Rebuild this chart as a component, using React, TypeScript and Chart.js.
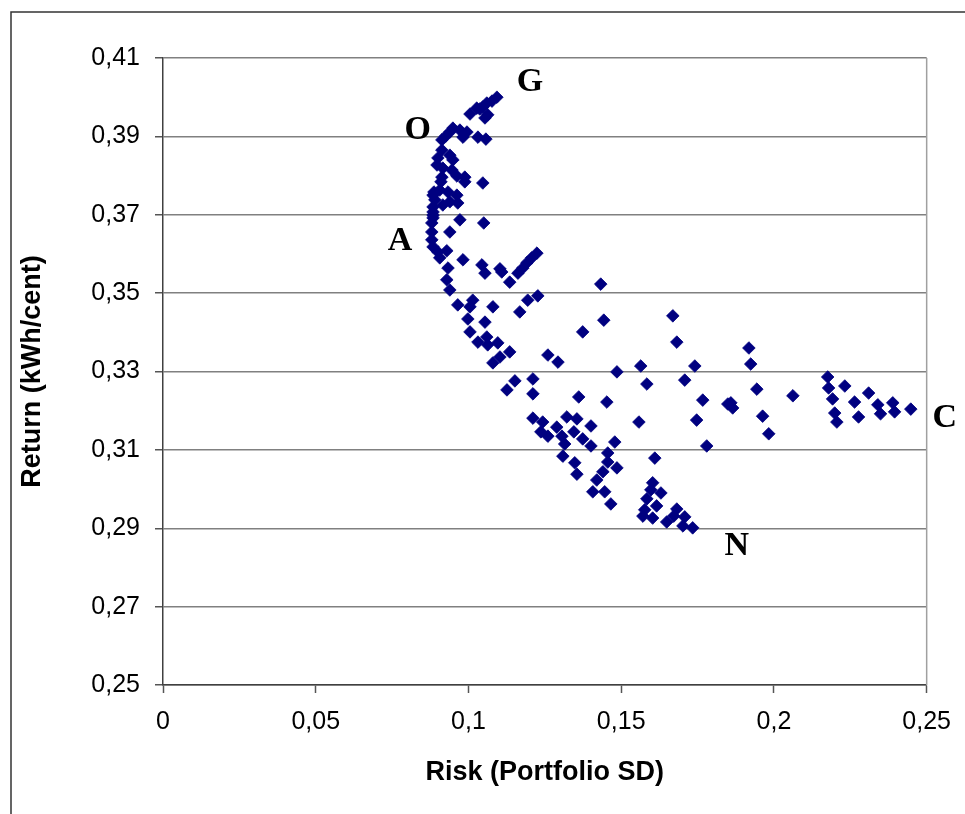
import React, { useEffect, useRef } from "react";
import { Chart, registerables } from "chart.js";

Chart.register(...registerables);

// Portfolio risk (standard deviation) for each portfolio
const riskSD: number[] = [
  0.1093, 0.1077, 0.1060, 0.1047, 0.1037, 0.1027, 0.1005, 0.1063, 0.1054, 0.0949,
  0.0939, 0.0926, 0.0972, 0.0995, 0.0982, 0.1031, 0.1057, 0.0913, 0.0913, 0.0939,
  0.0900, 0.0949, 0.0897, 0.0916, 0.0946, 0.0913, 0.0962, 0.0988, 0.1047, 0.0884,
  0.0906, 0.0933, 0.0962, 0.0939, 0.0916, 0.0965, 0.0884, 0.0884, 0.0972, 0.1050,
  0.0880, 0.0880, 0.0939, 0.0880, 0.0884, 0.0900, 0.0929, 0.0982, 0.1044, 0.0906,
  0.0890, 0.0884, 0.0884, 0.0887, 0.0910, 0.0988, 0.0933, 0.1054, 0.1103, 0.0929,
  0.1224, 0.1207, 0.1191, 0.1178, 0.1162, 0.1135, 0.1109,
  0.0939, 0.0965, 0.1014, 0.1005, 0.1080, 0.1194, 0.1227, 0.1168, 0.0998, 0.1054,
  0.1005, 0.1031, 0.1060, 0.1063, 0.1096, 0.1135, 0.1103, 0.1080, 0.1260, 0.1293,
  0.1152, 0.1126, 0.1211, 0.1211, 0.1211, 0.1243, 0.1289, 0.1322, 0.1433,
  0.1669, 0.1443, 0.1374, 0.1682, 0.1564, 0.1741, 0.1486, 0.1584, 0.1708, 0.1361,
  0.1453, 0.1767, 0.1849, 0.1355, 0.1237, 0.1260, 0.1345, 0.1401, 0.1558, 0.1747,
  0.1306, 0.1315, 0.1374, 0.1401, 0.1479, 0.1780, 0.1309, 0.1348, 0.1456, 0.1456,
  0.1486, 0.1610, 0.1355, 0.1440, 0.1420, 0.1407, 0.1446, 0.1466, 0.1603, 0.1597,
  0.1630, 0.1584, 0.1616, 0.1577, 0.1571, 0.1603, 0.1649, 0.1682, 0.1672, 0.1708,
  0.1702, 0.1734,
  0.1918, 0.1924, 0.1859, 0.1865, 0.1944, 0.1963, 0.1983, 0.2062, 0.2176, 0.2179,
  0.2232, 0.2192, 0.2264, 0.2199, 0.2206, 0.2277, 0.2310, 0.2340, 0.2349, 0.2389,
  0.2395, 0.2448,
];

// Portfolio return (kWh/cent) for each portfolio
const returnKWh: number[] = [
  0.4000, 0.3990, 0.3985, 0.3975, 0.3970, 0.3972, 0.3957, 0.3955, 0.3947, 0.3921,
  0.3911, 0.3901, 0.3916, 0.3911, 0.3898, 0.3898, 0.3893, 0.3891, 0.3865, 0.3852,
  0.3845, 0.3840, 0.3827, 0.3819, 0.3814, 0.3796, 0.3799, 0.3796, 0.3781, 0.3750,
  0.3763, 0.3758, 0.3750, 0.3733, 0.3725, 0.3730, 0.3720, 0.3699, 0.3687, 0.3679,
  0.3679, 0.3656, 0.3656, 0.3636, 0.3618, 0.3605, 0.3608, 0.3585, 0.3572, 0.3590,
  0.3738, 0.3707, 0.3692, 0.3758, 0.3784, 0.3784, 0.3564, 0.3551, 0.3562, 0.3534,
  0.3602, 0.3590, 0.3577, 0.3564, 0.3551, 0.3528, 0.3554,
  0.3508, 0.3470, 0.3482, 0.3465, 0.3465, 0.3482, 0.3493, 0.3452, 0.3434, 0.3426,
  0.3401, 0.3375, 0.3388, 0.3368, 0.3373, 0.3350, 0.3337, 0.3322, 0.3342, 0.3324,
  0.3276, 0.3253, 0.3281, 0.3243, 0.3181, 0.3171, 0.3158, 0.3184, 0.3523,
  0.3442, 0.3431, 0.3401, 0.3375, 0.3314, 0.3314, 0.3299, 0.3268, 0.3278, 0.3235,
  0.3222, 0.3227, 0.3217, 0.3179, 0.3146, 0.3135, 0.3146, 0.3161, 0.3171, 0.3176,
  0.3135, 0.3115, 0.3128, 0.3110, 0.3120, 0.3110, 0.3084, 0.3067, 0.3092, 0.3069,
  0.3054, 0.3079, 0.3038, 0.3044, 0.3023, 0.2993, 0.2993, 0.2962, 0.3016, 0.2998,
  0.2990, 0.2975, 0.2957, 0.2947, 0.2931, 0.2926, 0.2916, 0.2949, 0.2931, 0.2929,
  0.2906, 0.2901,
  0.3360, 0.3319, 0.3220, 0.3207, 0.3255, 0.3186, 0.3141, 0.3238, 0.3286, 0.3258,
  0.3263, 0.3230, 0.3222, 0.3194, 0.3171, 0.3184, 0.3245, 0.3215, 0.3192, 0.3220,
  0.3197, 0.3204,
];

// Axis ticks
const xTickValues: number[] = [0, 0.05, 0.1, 0.15, 0.2, 0.25];
const xTickLabels: string[] = ["0", "0,05", "0,1", "0,15", "0,2", "0,25"];
const yTickValues: number[] = [0.25, 0.27, 0.29, 0.31, 0.33, 0.35, 0.37, 0.39, 0.41];
const yTickLabels: string[] = ["0,25", "0,27", "0,29", "0,31", "0,33", "0,35", "0,37", "0,39", "0,41"];

// Point annotations (letters)
const markerLetters: string[] = ["G", "O", "A", "N", "C"];
const markerRisk: number[] = [0.1201, 0.0834, 0.0776, 0.1878, 0.2559];
const markerReturn: number[] = [0.4039, 0.3916, 0.3633, 0.2855, 0.3181];

const xTitle = "Risk (Portfolio SD)";
const yTitle = "Return (kWh/cent)";

const SANS = "'Liberation Sans', Arial, sans-serif";
const SERIF = "'Liberation Serif', 'Times New Roman', serif";

export default function App() {
  const canvasRef = useRef<HTMLCanvasElement | null>(null);

  useEffect(() => {
    const canvas = canvasRef.current;
    if (!canvas) return;

    const decorPlugin = {
      id: "decor",
      beforeDraw(chart: any) {
        const ctx = chart.ctx;
        ctx.save();
        ctx.fillStyle = "#ffffff";
        ctx.fillRect(0, 0, chart.width, chart.height);
        // outer frame
        ctx.strokeStyle = "#333333";
        ctx.lineWidth = 1.5;
        ctx.beginPath();
        ctx.moveTo(11, chart.height + 2);
        ctx.lineTo(11, 12);
        ctx.lineTo(chart.width + 2, 12);
        ctx.stroke();
        ctx.restore();
      },
      afterDatasetsDraw(chart: any) {
        const ctx = chart.ctx;
        const area = chart.chartArea;
        ctx.save();
        // right border of plot area
        ctx.strokeStyle = "#a0a0a0";
        ctx.lineWidth = 1.5;
        ctx.beginPath();
        ctx.moveTo(area.right, area.top);
        ctx.lineTo(area.right, area.bottom);
        ctx.stroke();
        // letter annotations
        const xs = chart.scales.x;
        const ys = chart.scales.y;
        ctx.fillStyle = "#000000";
        ctx.font = `bold 34px ${SERIF}`;
        ctx.textAlign = "center";
        ctx.textBaseline = "middle";
        markerLetters.forEach((t, i) => {
          ctx.fillText(t, xs.getPixelForValue(markerRisk[i]), ys.getPixelForValue(markerReturn[i]));
        });
        ctx.restore();
      },
    };

    const points = riskSD.map((x, i) => ({ x, y: returnKWh[i] }));

    const chart = new Chart(canvas, {
      type: "scatter",
      data: {
        datasets: [
          {
            data: points,
            pointStyle: "rectRot",
            pointRadius: 6.3,
            pointHoverRadius: 6.3,
            backgroundColor: "#000080",
            borderColor: "#000080",
            borderWidth: 0.8,
          },
        ],
      },
      options: {
        responsive: false,
        animation: false,
        events: [],
        layout: { padding: { top: 58, right: 38, left: 0, bottom: 0 } },
        plugins: {
          legend: { display: false },
          tooltip: { enabled: false },
        },
        scales: {
          x: {
            type: "linear",
            min: 0,
            max: 0.25,
            afterBuildTicks: (scale: any) => {
              scale.ticks = xTickValues.map((v) => ({ value: v }));
            },
            afterFit: (scale: any) => {
              scale.height = 129;
            },
            ticks: {
              color: "#000000",
              font: { family: SANS, size: 25 },
              padding: 14,
              maxRotation: 0,
              autoSkip: false,
              callback: (_v: any, i: number) => xTickLabels[i],
            },
            grid: {
              drawOnChartArea: false,
              drawTicks: true,
              tickLength: 8,
              tickColor: "#555555",
              tickWidth: 1.5,
            },
            border: { display: true, color: "#404040", width: 1.5 },
            title: {
              display: true,
              text: xTitle,
              color: "#000000",
              font: { family: SANS, size: 27, weight: "bold" },
              padding: { top: 0, bottom: 25 },
            },
          },
          y: {
            type: "linear",
            min: 0.25,
            max: 0.41,
            afterBuildTicks: (scale: any) => {
              scale.ticks = yTickValues.map((v) => ({ value: v }));
            },
            afterFit: (scale: any) => {
              scale.width = 163;
            },
            ticks: {
              color: "#000000",
              font: { family: SANS, size: 25 },
              padding: 15,
              autoSkip: false,
              callback: (_v: any, i: number) => yTickLabels[i],
            },
            grid: {
              color: "#808080",
              lineWidth: 1.5,
              drawTicks: true,
              tickLength: 8,
              tickColor: "#555555",
              tickWidth: 1.5,
            },
            border: { display: true, color: "#404040", width: 1.5 },
            title: {
              display: true,
              text: yTitle,
              color: "#000000",
              font: { family: SANS, size: 27, weight: "bold" },
              padding: { top: 16, bottom: 0 },
            },
          },
        },
      },
      plugins: [decorPlugin],
    });

    return () => {
      chart.destroy();
    };
  }, []);

  return (
    <div style={{ position: "absolute", left: 0, top: 0, width: 965, height: 814, background: "#fff" }}>
      <canvas ref={canvasRef} width={965} height={814} style={{ display: "block" }} />
    </div>
  );
}
